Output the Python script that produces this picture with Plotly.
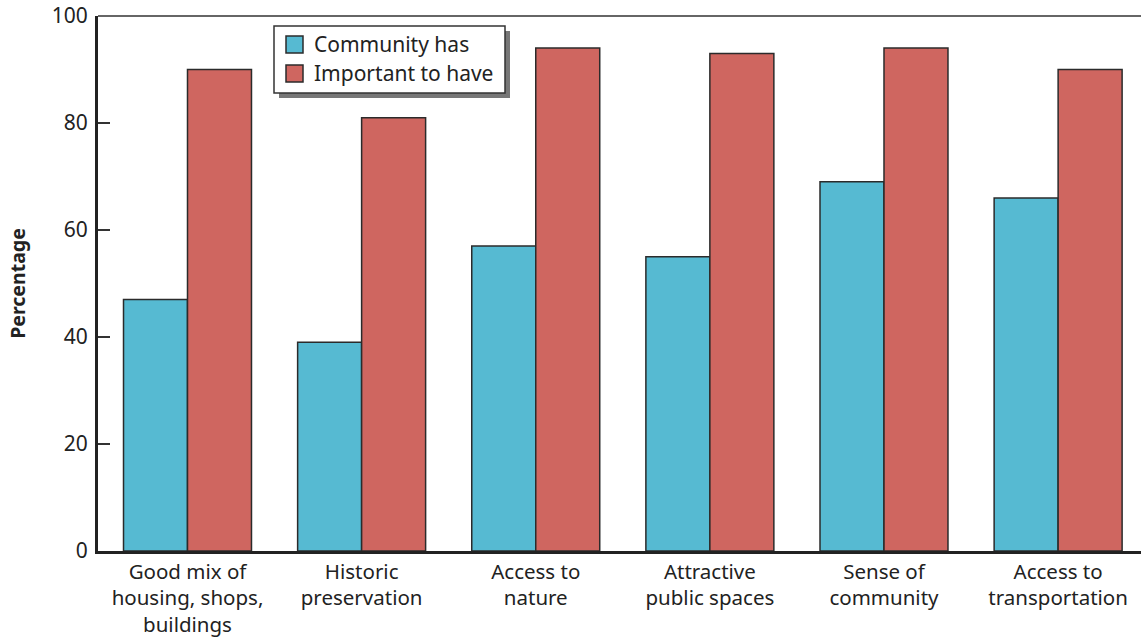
import plotly.graph_objects as go

categories = [
    "Good mix of<br>housing, shops,<br>buildings",
    "Historic<br>preservation",
    "Access to<br>nature",
    "Attractive<br>public spaces",
    "Sense of<br>community",
    "Access to<br>transportation",
]
series_names = ["Community has", "Important to have"]
community_has = [47, 39, 57, 55, 69, 66]
important_to_have = [90, 81, 94, 93, 94, 90]

FONT = "Noto Sans"
BLUE = "#56BAD2"
RED = "#CF6660"
EDGE = "#2b2b2b"
TEXT = "#222222"

W, H = 1141, 640
M_L, M_R, M_T, M_B = 98, 0, 16, 89
PLOT_W = W - M_L - M_R
PLOT_H = H - M_T - M_B


def px_x(x):
    """Page pixel column -> paper x."""
    return (x - M_L) / PLOT_W


def px_y(y):
    """Page pixel row -> paper y."""
    return (H - M_B - y) / PLOT_H


x_idx = list(range(len(categories)))

fig = go.Figure()
for name, vals, col in [(series_names[0], community_has, BLUE),
                        (series_names[1], important_to_have, RED)]:
    fig.add_trace(go.Bar(
        x=x_idx, y=vals, name=name, showlegend=False,
        marker=dict(color=col, line=dict(color=EDGE, width=1.5)),
    ))

shapes = []
# thin frame line along the top of the plot
shapes.append(dict(type="line", xref="paper", yref="paper",
                   x0=0, x1=1, y0=1, y1=1,
                   line=dict(color="#333333", width=1.5), layer="above"))
# legend: drop shadow, then the white box
shapes.append(dict(type="rect", xref="paper", yref="paper",
                   x0=px_x(279), x1=px_x(510), y0=px_y(98), y1=px_y(31),
                   fillcolor="#777777", line=dict(width=0), layer="above"))
shapes.append(dict(type="rect", xref="paper", yref="paper",
                   x0=px_x(274), x1=px_x(505), y0=px_y(93), y1=px_y(26),
                   fillcolor="white", line=dict(color="#333333", width=1.5),
                   layer="above"))

annotations = []
for i, (name, col) in enumerate(zip(series_names, [BLUE, RED])):
    cy = 44.5 + 29 * i
    shapes.append(dict(type="rect", xref="paper", yref="paper",
                       x0=px_x(286), x1=px_x(303),
                       y0=px_y(cy + 8.5), y1=px_y(cy - 8.5),
                       fillcolor=col, line=dict(color=EDGE, width=1.5),
                       layer="above"))
    annotations.append(dict(xref="paper", yref="paper",
                            x=px_x(312), y=px_y(cy),
                            xanchor="left", yanchor="middle",
                            text=name, showarrow=False,
                            font=dict(family=FONT, size=21, color=TEXT)))

fig.update_layout(
    width=W, height=H,
    margin=dict(l=M_L, r=M_R, t=M_T, b=M_B),
    paper_bgcolor="white", plot_bgcolor="white",
    barmode="group", bargap=0.265, bargroupgap=0,
    font=dict(family=FONT, size=21, color=TEXT),
    showlegend=False,
    shapes=shapes,
    annotations=annotations,
    xaxis=dict(
        tickmode="array", tickvals=x_idx, ticktext=categories,
        range=[-0.514, 5.476],
        showline=True, linecolor=TEXT, linewidth=3,
        ticks="", showgrid=False, zeroline=False,
        tickfont=dict(family=FONT, size=20.5, color=TEXT),
    ),
    yaxis=dict(
        range=[0, 100], tickvals=[0, 20, 40, 60, 80, 100],
        showline=True, linecolor=TEXT, linewidth=3,
        ticks="inside", ticklen=12, tickwidth=1.5, tickcolor="#333333",
        showgrid=False, zeroline=False, ticklabelstandoff=3,
        tickfont=dict(family=FONT, size=21, color=TEXT),
        title=dict(text="<b>Percentage</b>", standoff=21,
                   font=dict(family=FONT, size=19.5, color=TEXT)),
    ),
)

fig.write_html("out.html")
